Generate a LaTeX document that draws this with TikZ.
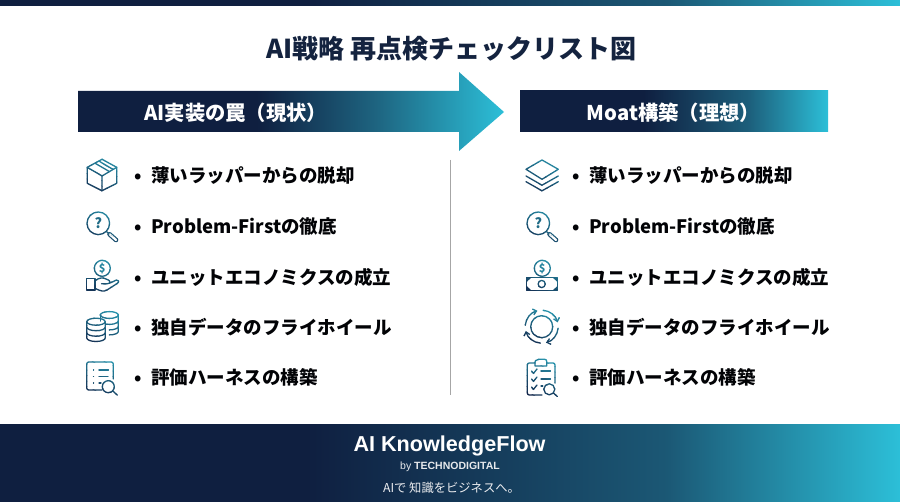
\documentclass[tikz,border=0pt]{standalone}
\usepackage{fontspec}
\usetikzlibrary{arrows.meta}
\setmainfont{Noto Sans CJK JP}
\newfontfamily\latinfoot{Liberation Sans}
\definecolor{navy}{HTML}{0F1F40}
\definecolor{cyanend}{HTML}{2CBFD8}
\definecolor{tealtop}{HTML}{2A9DB5}
\definecolor{navyicon}{HTML}{12264A}
\definecolor{titlecol}{HTML}{14233F}
\pgfdeclarehorizontalshading{arrowgrad}{100bp}{color(0bp)=(navy); color(46bp)=(navy); color(60bp)=(navy!45!tealtop); color(75bp)=(cyanend); color(100bp)=(cyanend)}
\pgfdeclarehorizontalshading{boxgrad}{100bp}{color(0bp)=(navy); color(45bp)=(navy); color(62bp)=(navy!50!tealtop); color(75bp)=(cyanend); color(100bp)=(cyanend)}
\pgfdeclarehorizontalshading{bargrad}{100bp}{color(0bp)=(navy); color(42bp)=(navy); color(62bp)=(navy!55!tealtop); color(75bp)=(cyanend); color(100bp)=(cyanend)}
\tikzset{
  x=1pt,y=-1pt,
  titletext/.style={font=\fontsize{26}{30}\selectfont\bfseries,text=titlecol,inner sep=0pt},
  headtext/.style={font=\fontsize{20.3}{23}\selectfont\bfseries,text=white,inner sep=0pt},
  itemtext/.style={font=\fontsize{18.5}{22}\selectfont\bfseries,text=black!90!navy,anchor=base west,inner sep=0pt},
  ico/.style={draw=iconcol,line width=1.3pt,line join=round,line cap=round},
  glyph/.style={inner sep=0pt,text=#1},
  qmark/.style={font=\fontsize{14}{15}\selectfont\bfseries},
  dollar/.style={font=\fontsize{11}{12}\selectfont\bfseries},
}
% gradient stroke: the icon is repeated in narrow clipped bands
\newcommand\gradicon[3]{%
  \begin{scope}[shift={(#1,#2)}]
    \foreach \i in {0,...,9}{%
      \pgfmathtruncatemacro\pct{\i*100/9}%
      \colorlet{iconcol}{navyicon!\pct!tealtop}%
      \begin{scope}
        \clip[rotate=-25] (-40,{-25+\i*5-.25}) rectangle (40,{-20+\i*5+.25});
        #3
      \end{scope}
    }%
  \end{scope}}
\newcommand\mglass{%
  \draw[ico] (-3.7,-2.7) circle[radius=11.3];
  \draw[ico] (4.5,5.5) -- (6.8,7.6);
  \draw[draw=iconcol,line width=4.6pt,line cap=round] (7.6,8.3) -- (14,14);
  \draw[draw=white,line width=2.2pt,line cap=round] (7.6,8.3) -- (14,14);}
\newcommand\boxicon{%
  \draw[ico] (0,-15.7) -- (14.7,-7.7) -- (14.7,8.3) -- (0,15.7) -- (-14.7,8.3) -- (-14.7,-7.7) -- cycle;
  \draw[ico] (-14.7,-7.7) -- (0,1) -- (14.7,-7.7) (0,1) -- (0,15.7);
  \draw[ico] (-7,-11.8) -- (7.5,-3.4) (-3,-13.9) -- (11,-5.6);}
\newcommand\handicon{%
  \draw[ico] (0.3,-8.7) circle[radius=8];
  \draw[ico] (-15.3,1.5) rectangle (-7,13);
  \draw[ico] (-7,3.8) .. controls (-3,0.6) and (1,0.3) .. (4,2) .. controls (6,3) and (8,3.2) .. (8,5) .. controls (8,7) and (4,7) .. (-0.5,6.8);
  \draw[ico] (7.6,6.2) -- (14.5,3) .. controls (17,2.5) and (17.5,5) .. (15,6.6) -- (5,13) .. controls (2,15) and (-2,14) .. (-7,11.3);}
\newcommand\stackicon{%
  \draw[ico] (16.3,-12) arc[start angle=0,delta angle=-180,x radius=9,y radius=3.4];
  \draw[ico] (-1.7,-12) arc[start angle=180,delta angle=-180,x radius=9,y radius=3.4];
  \draw[ico] (16.3,-12) -- (16.3,4.5) arc[start angle=0,delta angle=90,x radius=9,y radius=3.4];
  \draw[ico] (-1.7,-12) -- (-1.7,-6);
  \draw[ico] (16.3,-6) arc[start angle=0,delta angle=110,x radius=9,y radius=3.4];
  \draw[ico] (16.3,-0.5) arc[start angle=0,delta angle=90,x radius=9,y radius=3.4];
  \draw[ico] (-6,-5.3) ellipse[x radius=9.2,y radius=3.5];
  \draw[ico] (-15.2,-5.3) -- (-15.2,11) arc[start angle=180,delta angle=-180,x radius=9.2,y radius=3.5] -- (3.2,-5.3);
  \draw[ico] (-15.2,0.2) arc[start angle=180,delta angle=-180,x radius=9.2,y radius=3.5];
  \draw[ico] (-15.2,5.7) arc[start angle=180,delta angle=-180,x radius=9.2,y radius=3.5];}
\newcommand\listicon{%
  \draw[ico] (11.3,2) -- (11.3,-13) arc[start angle=0,delta angle=-90,radius=2] -- (-13.3,-15) arc[start angle=-90,delta angle=-90,radius=2] -- (-15.3,11) arc[start angle=180,delta angle=-90,radius=2] -- (0,13);
  \draw[ico] (-8.5,-7) -- (-8.4,-7) (-3,-7) -- (6.5,-7);
  \draw[ico] (-8.5,-0.5) -- (-8.4,-0.5) (-3,-0.5) -- (6,-0.5);
  \draw[ico] (-8.5,6) -- (-8.4,6) (-3,6) -- (-1,6);
  \draw[ico] (6.3,9.7) circle[radius=6];
  \draw[ico] (10.8,14) -- (15.3,18);}
\newcommand\layersicon{%
  \draw[ico] (0,-15) -- (16.3,-5.7) -- (0,4.3) -- (-16,-5.7) -- cycle;
  \draw[ico] (-16,1) -- (0,10.2) -- (16.3,1);
  \draw[ico] (-16,6.7) -- (0,15.8) -- (16.3,6.7);}
\newcommand\billicon{%
  \draw[ico] (0.3,-8.7) circle[radius=8];
  \draw[ico] (-15.3,0.3) rectangle (15.3,13.7);
  \draw[ico] (-0.3,7) circle[radius=3.6];
  \fill[iconcol] (-15.3,0.3) -- (-10.5,0.3) -- (-15.3,5) -- cycle (-15.3,13.7) -- (-10.5,13.7) -- (-15.3,9) -- cycle;
  \fill[iconcol] (15.3,0.3) -- (10.5,0.3) -- (15.3,5) -- cycle (15.3,13.7) -- (10.5,13.7) -- (15.3,9) -- cycle;}
\newcommand\cycleicon{%
  \draw[ico] (-0.3,-0.3) circle[radius=11];
  \begin{scope}[shift={(-0.3,-0.3)}]
    \draw[ico,-{Straight Barb[length=3.5pt,width=6pt]}] (185:16.5) arc[start angle=185,end angle=255,radius=16.5];
    \draw[ico,-{Straight Barb[length=3.5pt,width=6pt]}] (275:16.5) arc[start angle=275,end angle=345,radius=16.5];
    \draw[ico,-{Straight Barb[length=3.5pt,width=6pt]}] (5:16.5) arc[start angle=5,end angle=75,radius=16.5];
    \draw[ico,-{Straight Barb[length=3.5pt,width=6pt]}] (95:16.5) arc[start angle=95,end angle=165,radius=16.5];
  \end{scope}}
\newcommand\clipicon{%
  \draw[ico] (-7,-14) -- (-12.7,-14) arc[start angle=-90,delta angle=-90,radius=2] -- (-14.7,16) arc[start angle=180,delta angle=-90,radius=2] -- (0,18);
  \draw[ico] (4.7,-14) -- (11,-14) arc[start angle=-90,delta angle=90,radius=2] -- (13,6);
  \draw[ico] (-7,-11) -- (-7,-15) arc[start angle=180,delta angle=90,radius=2] -- (-3,-17.7) -- (2.7,-17.7) arc[start angle=-90,delta angle=90,radius=2] -- (4.7,-11) -- cycle;
  \draw[ico] (-10.5,-6) -- (-8.5,-3.6) -- (-5,-8);
  \draw[ico] (-10.5,2) -- (-8.5,4.4) -- (-5,0);
  \draw[ico] (-10.5,10) -- (-8.5,12.4) -- (-5,8);
  \draw[ico] (-1,-6) -- (8.5,-6) (-1,2) -- (8.5,2) (-1,9) -- (0.8,9);
  \draw[ico] (7.3,12.3) circle[radius=5.5];
  \draw[ico] (11.4,16) -- (15.3,19.5);}
\begin{document}
\begin{tikzpicture}
\useasboundingbox (0,0) rectangle (900,502);
\fill[white] (0,0) rectangle (900,502);
% bars
\path[shading=bargrad] (0,0) rectangle (900,6);
\path[shading=bargrad] (0,425) rectangle (900,502);
% title
\node[titletext] (title) at (451.5,48.5) {AI戦略 再点検チェックリスト図};
% header arrow and box
\path[shading=arrowgrad] (78,91) -- (459,91) -- (459,72) -- (504,112) -- (459,151) -- (459,132) -- (78,132) -- cycle;
\path[shading=boxgrad] (520,91) rectangle (828,132);
\node[headtext,anchor=west] (headleft) at (144,112.5) {AI実装の罠（現状）};
\node[headtext] (headright) at (673.5,112.5) {Moat構築（理想）};
% divider
\coordinate (divtop) at (450,160);
\coordinate (divbot) at (450,395);
\draw[draw=black!35,line width=.9pt] (divtop) -- (divbot);
% left items
\newcommand\bul[1]{\makebox[17pt][l]{•}#1}
\node[itemtext] (l1) at (134,182.5) {\bul{薄いラッパーからの脱却}};
\node[itemtext] (l2) at (134,233.5) {\bul{Problem-Firstの徹底}};
\node[itemtext] (l3) at (134,284.5) {\bul{ユニットエコノミクスの成立}};
\node[itemtext] (l4) at (134,334.5) {\bul{独自データのフライホイール}};
\node[itemtext] (l5) at (134,384.5) {\bul{評価ハーネスの構築}};
% right items
\node[itemtext] (r1) at (572,182.5) {\bul{薄いラッパーからの脱却}};
\node[itemtext] (r2) at (572,233.5) {\bul{Problem-Firstの徹底}};
\node[itemtext] (r3) at (572,284.5) {\bul{ユニットエコノミクスの成立}};
\node[itemtext] (r4) at (572,334.5) {\bul{独自データのフライホイール}};
\node[itemtext] (r5) at (572,384.5) {\bul{評価ハーネスの構築}};
% icons left
\gradicon{102}{175}{\boxicon}
\gradicon{102}{226}{\mglass}
\node[glyph=navy!40!tealtop,qmark] (ql) at (98.3,223.3) {?};
\gradicon{102}{277}{\handicon}
\node[glyph=navy!20!tealtop,dollar] (dl) at (102.3,268.3) {\$};
\gradicon{102}{327}{\stackicon}
\gradicon{102}{377}{\listicon}
% icons right
\gradicon{542}{175}{\layersicon}
\gradicon{542}{226}{\mglass}
\node[glyph=navy!40!tealtop,qmark] (qr) at (538.3,223.3) {?};
\gradicon{542}{277}{\billicon}
\node[glyph=navy!20!tealtop,dollar] (dr) at (542.3,268.3) {\$};
\gradicon{542}{327}{\cycleicon}
\gradicon{542}{377}{\clipicon}
% footer
\node[inner sep=0pt,text=white,font=\latinfoot\bfseries\fontsize{21.6}{24}\selectfont] (brand) at (449.5,446) {AI KnowledgeFlow};
\node[inner sep=0pt,text=white!90!navy,font=\latinfoot\fontsize{10.5}{12}\selectfont] (by) at (450,467) {by \textbf{TECHNODIGITAL}};
\node[inner sep=0pt,text=white!92!navy,font=\fontsize{12.3}{14}\selectfont] (tag) at (451.5,487.5) {AIで 知識をビジネスへ。};
\end{tikzpicture}
\end{document}
